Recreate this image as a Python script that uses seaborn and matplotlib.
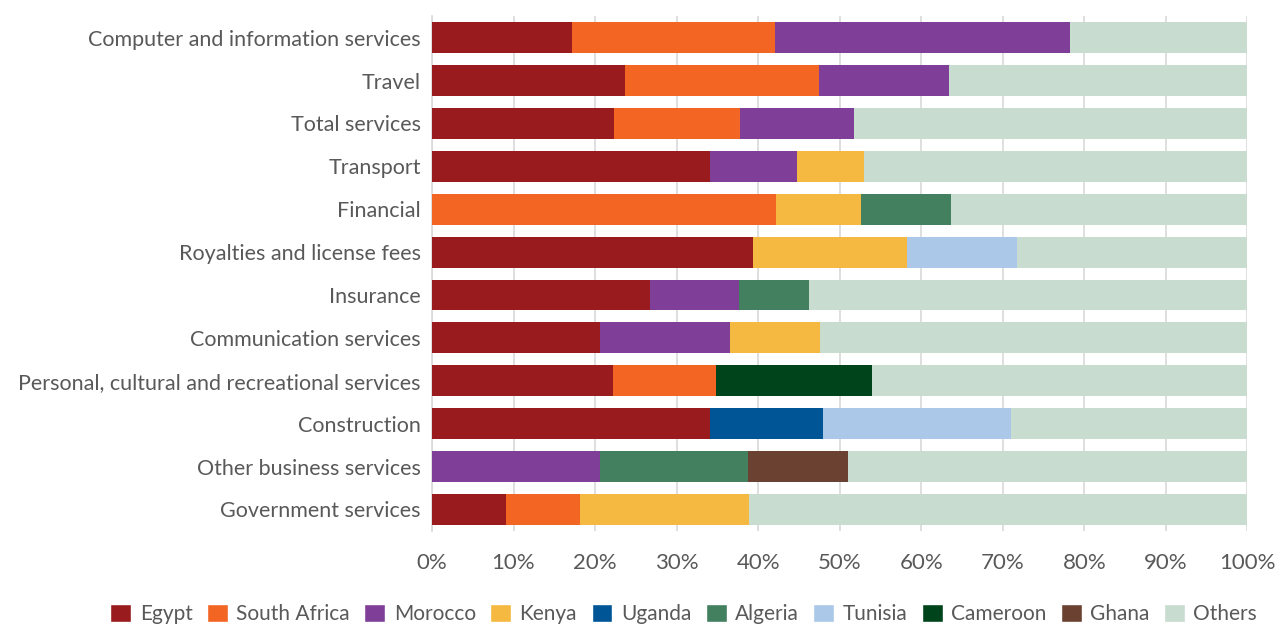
import matplotlib
matplotlib.use('Agg')
import matplotlib.pyplot as plt
import numpy as np
import pandas as pd
import seaborn as sns
from matplotlib.patches import Patch

categories = ['Computer and information services', 'Travel', 'Total services', 'Transport',
              'Financial', 'Royalties and license fees', 'Insurance', 'Communication services',
              'Personal, cultural and recreational services', 'Construction',
              'Other business services', 'Government services']

# shares in % (0 where the country is not shown)
egypt        = [17.2, 23.7, 22.3, 34.1, 0.0, 39.4, 26.7, 20.6, 22.2, 34.1, 0.0, 9.1]
south_africa = [24.9, 23.8, 15.5, 0.0, 42.2, 0.0, 0.0, 0.0, 12.6, 0.0, 0.0, 9.1]
morocco      = [36.2, 15.9, 13.9, 10.7, 0.0, 0.0, 11.0, 16.0, 0.0, 0.0, 20.6, 0.0]
kenya        = [0.0, 0.0, 0.0, 8.2, 10.4, 18.8, 0.0, 11.0, 0.0, 0.0, 0.0, 20.7]
uganda       = [0.0, 0.0, 0.0, 0.0, 0.0, 0.0, 0.0, 0.0, 0.0, 13.9, 0.0, 0.0]
algeria      = [0.0, 0.0, 0.0, 0.0, 11.1, 0.0, 8.6, 0.0, 0.0, 0.0, 18.2, 0.0]
tunisia      = [0.0, 0.0, 0.0, 0.0, 0.0, 13.5, 0.0, 0.0, 0.0, 23.0, 0.0, 0.0]
cameroon     = [0.0, 0.0, 0.0, 0.0, 0.0, 0.0, 0.0, 0.0, 19.2, 0.0, 0.0, 0.0]
ghana        = [0.0, 0.0, 0.0, 0.0, 0.0, 0.0, 0.0, 0.0, 0.0, 0.0, 12.2, 0.0]

series_names = ['Egypt', 'South Africa', 'Morocco', 'Kenya', 'Uganda', 'Algeria',
                'Tunisia', 'Cameroon', 'Ghana', 'Others']
colors = ['#991b1e', '#f26522', '#7f3f98', '#f5b841', '#005596', '#428060',
          '#abc8e8', '#00441b', '#6b4232', '#c8dcd0']

df = pd.DataFrame({'Egypt': egypt, 'South Africa': south_africa, 'Morocco': morocco,
                   'Kenya': kenya, 'Uganda': uganda, 'Algeria': algeria,
                   'Tunisia': tunisia, 'Cameroon': cameroon, 'Ghana': ghana},
                  index=categories)
df['Others'] = 100 - df.sum(axis=1)
cum = df.cumsum(axis=1)

sns.set_style('white')
plt.rcParams['font.family'] = ['Lato', 'DejaVu Sans']
text_col = '#595959'

fig = plt.figure(figsize=(12.78, 6.26), dpi=100)
ax = fig.add_axes([0.338, 0.152, 0.638, 0.822])

# draw cumulative totals back to front so each segment shows
for name, col in reversed(list(zip(series_names, colors))):
    sns.barplot(x=cum[name].values, y=categories, orient='h', color=col,
                saturation=1, width=0.72, ax=ax, linewidth=0, zorder=3)

ax.set_xlim(0, 100)
ax.set_ylim(11.5, -0.5)
ax.set_xticks(np.arange(0, 101, 10))
ax.set_xticklabels([f'{v}%' for v in range(0, 101, 10)], fontsize=16, color=text_col)
ax.tick_params(axis='y', labelsize=15.5, labelcolor=text_col, length=0, pad=8)
ax.tick_params(axis='x', length=5, color='#d9d9d9', width=1.2, pad=11)
ax.grid(axis='x', color='#d9d9d9', linewidth=1.2, zorder=0)
ax.set_xlabel('')
ax.set_ylabel('')
for s in ['top', 'right', 'bottom']:
    ax.spines[s].set_visible(False)
ax.spines['left'].set_color('#d9d9d9')
ax.spines['left'].set_linewidth(1.2)

handles = [Patch(facecolor=c, label=n) for n, c in zip(series_names, colors)]
fig.legend(handles=handles, loc='lower center', ncol=10, frameon=False,
           bbox_to_anchor=(0.535, -0.027), fontsize=15, labelcolor=text_col,
           handlelength=1.0, handleheight=1.0, handletextpad=0.4, columnspacing=0.7)

fig.savefig('out.png', dpi=100)
plt.close()
